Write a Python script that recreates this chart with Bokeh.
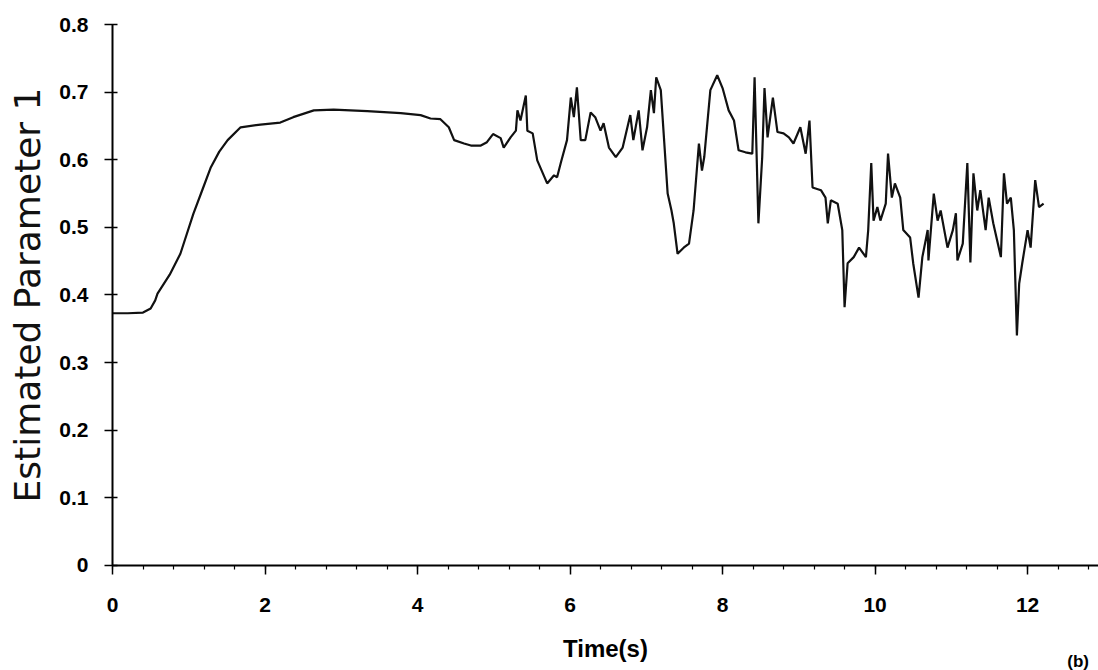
from bokeh.plotting import figure
from bokeh.models import Label, SingleIntervalTicker, FixedTicker, Range1d, LinearAxis
from bokeh.embed import file_html
from bokeh.resources import INLINE

# ---- data ----
time_s = [0.0, 0.2, 0.4, 0.5, 0.56, 0.59, 0.75, 0.89, 1.06, 1.18, 1.29, 1.40, 1.51, 1.68,
          1.94, 2.20, 2.37, 2.64, 2.90, 3.34, 3.78, 4.04, 4.17, 4.30, 4.41, 4.48, 4.61,
          4.70, 4.83, 4.91, 4.99, 5.09, 5.13, 5.22, 5.29, 5.31, 5.35, 5.42, 5.44, 5.51,
          5.57, 5.70, 5.79, 5.83, 5.88, 5.96, 6.01, 6.05, 6.09, 6.14, 6.20, 6.27, 6.33,
          6.40, 6.44, 6.51, 6.60, 6.69, 6.79, 6.83, 6.90, 6.95, 7.01, 7.06, 7.10, 7.13,
          7.19, 7.28, 7.33, 7.36, 7.41, 7.49, 7.56, 7.62, 7.69, 7.73, 7.76, 7.84, 7.93,
          8.00, 8.08, 8.15, 8.21, 8.30, 8.39, 8.42, 8.47, 8.52, 8.55, 8.59, 8.66, 8.72,
          8.80, 8.87, 8.93, 9.02, 9.09, 9.14, 9.18, 9.29, 9.35, 9.38, 9.42, 9.51, 9.57,
          9.60, 9.64, 9.72, 9.79, 9.88, 9.91, 9.95, 9.98, 10.03, 10.07, 10.14, 10.17,
          10.22, 10.26, 10.33, 10.37, 10.46, 10.50, 10.57, 10.62, 10.69, 10.70, 10.77,
          10.82, 10.86, 10.95, 11.02, 11.06, 11.08, 11.15, 11.21, 11.25, 11.29, 11.34,
          11.38, 11.45, 11.49, 11.55, 11.65, 11.69, 11.73, 11.78, 11.82, 11.86, 11.89,
          11.93, 12.00, 12.04, 12.10, 12.15, 12.21]
param = [0.373, 0.373, 0.374, 0.380, 0.392, 0.402, 0.430, 0.461, 0.520, 0.556, 0.589, 0.612,
         0.629, 0.648, 0.652, 0.655, 0.663, 0.673, 0.674, 0.672, 0.669, 0.666, 0.661, 0.660,
         0.648, 0.629, 0.624, 0.621, 0.621, 0.626, 0.638, 0.632, 0.618, 0.633, 0.643, 0.673,
         0.658, 0.695, 0.643, 0.639, 0.599, 0.565, 0.577, 0.574, 0.596, 0.629, 0.692, 0.663,
         0.707, 0.629, 0.629, 0.670, 0.663, 0.643, 0.654, 0.618, 0.604, 0.618, 0.666, 0.629,
         0.673, 0.614, 0.648, 0.703, 0.669, 0.722, 0.703, 0.550, 0.525, 0.506, 0.461, 0.470,
         0.476, 0.525, 0.624, 0.584, 0.604, 0.703, 0.725, 0.706, 0.673, 0.658, 0.614, 0.611,
         0.609, 0.722, 0.506, 0.604, 0.706, 0.633, 0.692, 0.641, 0.639, 0.633, 0.624, 0.648,
         0.609, 0.658, 0.559, 0.555, 0.544, 0.506, 0.540, 0.535, 0.496, 0.382, 0.447, 0.456,
         0.470, 0.456, 0.496, 0.595, 0.510, 0.530, 0.510, 0.535, 0.609, 0.544, 0.565, 0.544,
         0.496, 0.485, 0.447, 0.396, 0.456, 0.496, 0.451, 0.550, 0.510, 0.525, 0.470, 0.496,
         0.521, 0.451, 0.476, 0.595, 0.448, 0.580, 0.525, 0.555, 0.496, 0.544, 0.506, 0.456,
         0.580, 0.535, 0.544, 0.496, 0.340, 0.417, 0.447, 0.496, 0.470, 0.570, 0.530, 0.535]

x_tick_interval = 2
x_axis_end = 12.93
y_ticks = [0, 0.1, 0.2, 0.3, 0.4, 0.5, 0.6, 0.7, 0.8]
y_tick_labels = {0: "0"}
x_label = "Time(s)"
y_label = "Estimated Parameter 1"
panel_tag = "(b)"

# The frame fills the canvas; both axes are pinned at 0 so that every text sits inside it.
p = figure(width=1098, height=670, output_backend="svg", toolbar_location=None,
           x_range=Range1d(-1.4689, x_axis_end), y_range=Range1d(-0.1553, 0.8355),
           x_axis_location=None, y_axis_location=None,
           min_border_left=0, min_border_right=0, min_border_top=0, min_border_bottom=0)
p.background_fill_color = "white"
p.border_fill_color = "white"
p.outline_line_color = None
p.xgrid.visible = False
p.ygrid.visible = False

p.line(time_s, param, line_color="#111111", line_width=2.2)

# x axis, pinned at y = 0
xa = LinearAxis(fixed_location=0, bounds=(0, x_axis_end))
xa.ticker = SingleIntervalTicker(interval=x_tick_interval, num_minor_ticks=5)
xa.axis_line_width = 2
xa.axis_line_color = "black"
xa.major_tick_in = 0
xa.major_tick_out = 9
xa.minor_tick_in = 0
xa.minor_tick_out = 4
xa.major_tick_line_width = 1.5
xa.minor_tick_line_width = 1.2
xa.major_label_text_font = "Liberation Sans"
xa.major_label_text_font_style = "bold"
xa.major_label_text_font_size = "21px"
xa.major_label_text_color = "black"
xa.major_label_standoff = 24
xa.axis_label = x_label
xa.axis_label_text_font = "Liberation Sans"
xa.axis_label_text_font_style = "bold"
xa.axis_label_text_font_size = "24px"
xa.axis_label_text_color = "black"
xa.axis_label_standoff = 19
p.add_layout(xa, "below")

# y axis, pinned at x = 0
ya = LinearAxis(fixed_location=0, bounds=(0, 0.8))
ya.ticker = FixedTicker(ticks=y_ticks)
ya.major_label_overrides = y_tick_labels
ya.axis_line_width = 2
ya.axis_line_color = "black"
ya.major_tick_in = 5
ya.major_tick_out = 8
ya.minor_tick_in = 0
ya.minor_tick_out = 0
ya.major_tick_line_width = 1.5
ya.major_label_text_font = "Liberation Sans"
ya.major_label_text_font_style = "bold"
ya.major_label_text_font_size = "21px"
ya.major_label_text_color = "black"
ya.major_label_standoff = 16
ya.axis_label = y_label
ya.axis_label_text_font = "DejaVu Sans"
ya.axis_label_text_font_style = "normal"
ya.axis_label_text_font_size = "36px"
ya.axis_label_text_color = "#111111"
ya.axis_label_standoff = 8
p.add_layout(ya, "left")

blab = Label(x=12.52, y=-0.128, text=panel_tag, text_align="left", text_baseline="top",
             text_font="Liberation Sans", text_font_style="bold", text_font_size="17px",
             text_color="black")
p.add_layout(blab)

open("out.html", "w").write(file_html(p, INLINE))
